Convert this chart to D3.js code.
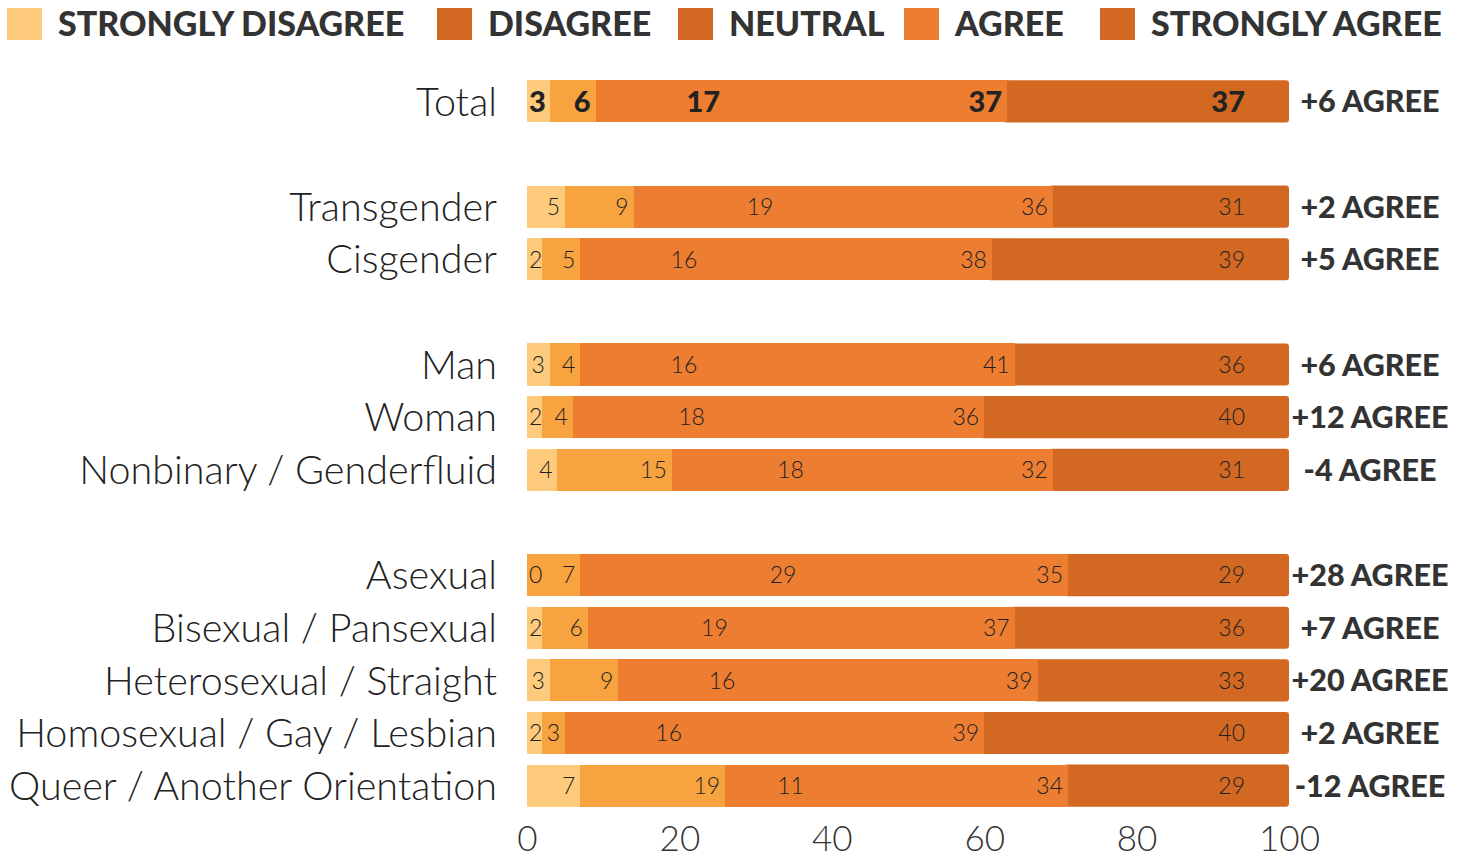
<!DOCTYPE html>
<html>
<head>
<meta charset="utf-8">
<script src="https://cdn.jsdelivr.net/npm/d3@7"></script>
<style>
  body { margin: 0; background: #fff; }
  svg { display: block; }
</style>
</head>
<body>
<div id="chart"></div>
<script>

// data
const levels = ["Strongly disagree", "Disagree", "Neutral", "Agree", "Strongly agree"];
const legendColors = ["#fecb7c", "#d36823", "#d36823", "#ed7d31", "#d36823"];
const barColors = ["#fecb7c", "#f7a440", "#ed7d31", "#ed7d31", "#d36823"];

const groups = [
  ["Total"],
  ["Transgender", "Cisgender"],
  ["Man", "Woman", "Nonbinary / Genderfluid"],
  ["Asexual", "Bisexual / Pansexual", "Heterosexual / Straight", "Homosexual / Gay / Lesbian", "Queer / Another Orientation"]
];

const values = {
  "Total":                       [3, 6, 17, 37, 37],
  "Transgender":                 [5, 9, 19, 36, 31],
  "Cisgender":                   [2, 5, 16, 38, 39],
  "Man":                         [3, 4, 16, 41, 36],
  "Woman":                       [2, 4, 18, 36, 40],
  "Nonbinary / Genderfluid":     [4, 15, 18, 32, 31],
  "Asexual":                     [0, 7, 29, 35, 29],
  "Bisexual / Pansexual":        [2, 6, 19, 37, 36],
  "Heterosexual / Straight":     [3, 9, 16, 39, 33],
  "Homosexual / Gay / Lesbian":  [2, 3, 16, 39, 40],
  "Queer / Another Orientation": [7, 19, 11, 34, 29]
};

const netLabels = {
  "Total": "+6 AGREE",
  "Transgender": "+2 AGREE",
  "Cisgender": "+5 AGREE",
  "Man": "+6 AGREE",
  "Woman": "+12 AGREE",
  "Nonbinary / Genderfluid": "-4 AGREE",
  "Asexual": "+28 AGREE",
  "Bisexual / Pansexual": "+7 AGREE",
  "Heterosexual / Straight": "+20 AGREE",
  "Homosexual / Gay / Lesbian": "+2 AGREE",
  "Queer / Another Orientation": "-12 AGREE"
};

const xTicks = [0, 20, 40, 60, 80, 100];

// layout
const W = 1465, H = 859;
const svg = d3.select("#chart").append("svg")
  .attr("width", W)
  .attr("height", H);

// rows with empty slots between the groups
const slots = [];
groups.forEach((g, i) => {
  if (i > 0) slots.push("gap" + i);
  g.forEach(d => slots.push(d));
});
const rows = groups.flat();

const x = d3.scaleLinear().domain([0, 100]).range([527, 1289]);
const y = d3.scaleBand().domain(slots).range([75, 812]).paddingInner(0.2).paddingOuter(0.1);

// stack each row
const stacked = rows.map(name => {
  let acc = 0;
  return {
    name: name,
    segs: values[name].map((v, i) => {
      const s = {i: i, v: v, x0: acc, x1: acc + v};
      acc += v;
      return s;
    })
  };
});

const row = svg.selectAll("g.row")
  .data(stacked)
  .join("g")
    .attr("class", "row")
    .attr("transform", d => `translate(0, ${y(d.name)})`);

// bars, last segment first so its rounded left side is covered
row.selectAll("rect")
  .data(d => d.segs.slice().reverse())
  .join("rect")
    .attr("x", d => d.i === 4 ? x(d.x0) - 4 : x(d.x0))
    .attr("width", d => d.i === 4 ? x(d.x1) - x(d.x0) + 4 : x(d.x1) - x(d.x0))
    .attr("y", 0)
    .attr("height", y.bandwidth())
    .attr("rx", d => d.i === 4 ? 3 : 0)
    .attr("shape-rendering", d => d.i === 4 ? null : "crispEdges")
    .attr("fill", d => barColors[d.i]);

// value labels, right-aligned near the end of each segment
row.each(function(r) {
  const bold = r.name === "Total";
  d3.select(this).selectAll("text.val")
    .data(r.segs)
    .join("text")
      .attr("class", "val")
      .attr("y", y.bandwidth() / 2)
      .attr("dy", "0.36em")
      .attr("text-anchor", "end")
      .attr("font-family", "Lato, sans-serif")
      .attr("font-weight", bold ? 900 : 300)
      .attr("font-size", bold ? 29 : 23)
      .attr("fill", "#222")
      .text(d => d.v)
      .attr("x", function(d) {
        if (d.i === 4) return x(d.x1) - 44;
        const w = this.getComputedTextLength();
        return Math.max(x(d.x1) - 5, x(d.x0) + w + 2);
      });
});

// row names
row.append("text")
  .attr("x", 497)
  .attr("y", y.bandwidth() / 2)
  .attr("dy", "0.36em")
  .attr("text-anchor", "end")
  .attr("font-family", "Lato, sans-serif")
  .attr("font-weight", 300)
  .attr("font-size", 39.5)
  .attr("fill", "#222")
  .text(d => d.name);

// net agree labels
row.append("text")
  .attr("x", x(100) + 81)
  .attr("y", y.bandwidth() / 2)
  .attr("dy", "0.36em")
  .attr("text-anchor", "middle")
  .attr("font-family", "Lato, sans-serif")
  .attr("font-weight", 900)
  .attr("font-size", 30.5)
  .attr("fill", "#333")
  .text(d => netLabels[d.name]);

// x axis
const axis = svg.append("g")
  .attr("transform", `translate(0, 826)`)
  .call(d3.axisBottom(x).tickValues(xTicks).tickSize(0).tickPadding(0));
axis.select(".domain").remove();
axis.selectAll("text")
  .attr("dy", "0.7em")
  .attr("font-family", "Lato, sans-serif")
  .attr("font-weight", 300)
  .attr("font-size", 35)
  .attr("fill", "#333");

// legend
const legendX = [7, 437, 678, 904, 1100];
const legend = svg.append("g").selectAll("g")
  .data(levels)
  .join("g")
    .attr("transform", (d, i) => `translate(${legendX[i]}, 8)`);
legend.append("rect")
  .attr("width", 35)
  .attr("height", 32)
  .attr("fill", (d, i) => legendColors[i]);
legend.append("text")
  .attr("x", 51)
  .attr("y", 16)
  .attr("dy", "0.36em")
  .attr("font-family", "Lato, sans-serif")
  .attr("font-weight", 900)
  .attr("font-size", 34)
  .attr("fill", "#333")
  .text(d => d.toUpperCase());

</script>
</body>
</html>
